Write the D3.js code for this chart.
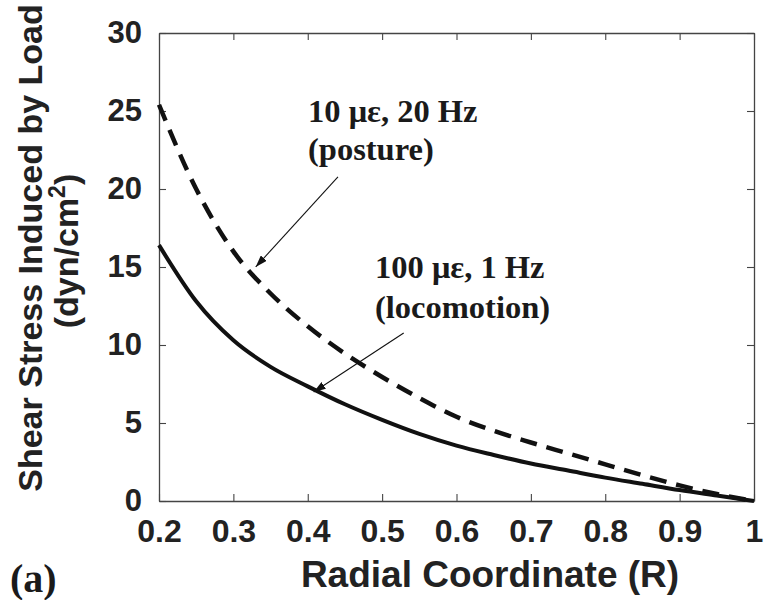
<!DOCTYPE html>
<html>
<head>
<meta charset="utf-8">
<script src="https://cdn.jsdelivr.net/npm/d3@7/dist/d3.min.js"></script>
<style>
  body { margin: 0; background: #fff; }
</style>
</head>
<body>
<div id="chart"></div>
<script>
// data
var radius = [0.2, 0.25, 0.3, 0.35, 0.4, 0.45, 0.5, 0.55, 0.6, 0.65, 0.7, 0.75, 0.8, 0.85, 0.9, 0.95, 1.0];
var locomotion = [16.4, 12.8, 10.3, 8.6, 7.35, 6.2, 5.2, 4.3, 3.55, 2.95, 2.4, 1.95, 1.5, 1.1, 0.7, 0.35, 0];
var posture = [25.4, 20.0, 16.0, 13.3, 11.2, 9.45, 7.95, 6.6, 5.4, 4.5, 3.75, 3.05, 2.35, 1.65, 1.0, 0.45, 0];
var xTicks = [0.2, 0.3, 0.4, 0.5, 0.6, 0.7, 0.8, 0.9, 1];
var yTicks = [0, 5, 10, 15, 20, 25, 30];

// svg size
var width = 767, height = 600;
var margin = { top: 33, left: 159, right: 13, bottom: 99 };
var plotW = width - margin.left - margin.right;
var plotH = height - margin.top - margin.bottom;

var svg = d3.select("#chart").append("svg")
  .attr("width", width)
  .attr("height", height);

var x = d3.scaleLinear().domain([0.2, 1]).range([margin.left, margin.left + plotW]);
var y = d3.scaleLinear().domain([0, 30]).range([margin.top + plotH, margin.top]);

var sans = "'Liberation Sans', Arial, sans-serif";
var serif = "'Liberation Serif', 'Times New Roman', serif";

// arrow head
svg.append("defs").append("marker")
  .attr("id", "head")
  .attr("viewBox", "0 0 12 8")
  .attr("refX", 12).attr("refY", 4)
  .attr("markerWidth", 12).attr("markerHeight", 8)
  .attr("markerUnits", "userSpaceOnUse")
  .attr("orient", "auto")
  .append("path").attr("d", "M0,0L12,4L0,8Z").attr("fill", "#111");

// axes, ticks pointing inward on all four sides
function styleAxis(size) {
  return function(g) {
    g.select(".domain").attr("stroke", "#444").attr("stroke-width", 1.3);
    g.selectAll(".tick line").attr("stroke", "#444").attr("stroke-width", 1.1);
    g.selectAll("text").attr("font-family", sans).attr("font-weight", "bold")
      .attr("font-size", size).attr("fill", "#222");
  };
}

svg.append("g")
  .attr("transform", "translate(0," + (margin.top + plotH) + ")")
  .call(d3.axisBottom(x).tickValues(xTicks).tickSizeInner(-7).tickSizeOuter(0).tickPadding(18)
    .tickFormat(function(d){ return d === 1 ? "1" : d3.format(".1f")(d); }))
  .call(styleAxis(32));

svg.append("g")
  .attr("transform", "translate(0," + margin.top + ")")
  .call(d3.axisTop(x).tickValues(xTicks).tickSizeInner(-7).tickSizeOuter(0).tickFormat(""))
  .call(styleAxis(32));

svg.append("g")
  .attr("transform", "translate(" + margin.left + ",0)")
  .call(d3.axisLeft(y).tickValues(yTicks).tickSizeInner(-7).tickSizeOuter(0).tickPadding(17))
  .call(styleAxis(31));

svg.append("g")
  .attr("transform", "translate(" + (margin.left + plotW) + ",0)")
  .call(d3.axisRight(y).tickValues(yTicks).tickSizeInner(-7).tickSizeOuter(0).tickFormat(""))
  .call(styleAxis(31));

// curves
var line = d3.line()
  .x(function(d, i){ return x(radius[i]); })
  .y(function(d){ return y(d); })
  .curve(d3.curveMonotoneX);

svg.append("path")
  .datum(posture)
  .attr("d", line)
  .attr("fill", "none")
  .attr("stroke", "#111")
  .attr("stroke-width", 4.5)
  .attr("stroke-dasharray", "17,10");

svg.append("path")
  .datum(locomotion)
  .attr("d", line)
  .attr("fill", "none")
  .attr("stroke", "#111")
  .attr("stroke-width", 4);

// annotations
svg.append("line")
  .attr("x1", x(0.4406)).attr("y1", y(20.77))
  .attr("x2", x(0.330)).attr("y2", y(15.0))
  .attr("stroke", "#111").attr("stroke-width", 1.1)
  .attr("marker-end", "url(#head)");

svg.append("line")
  .attr("x1", x(0.529)).attr("y1", y(10.77))
  .attr("x2", x(0.408)).attr("y2", y(6.99))
  .attr("stroke", "#111").attr("stroke-width", 1.1)
  .attr("marker-end", "url(#head)");

function note(tx, ty, str) {
  svg.append("text")
    .attr("x", tx).attr("y", ty)
    .attr("font-family", serif).attr("font-weight", "bold")
    .attr("font-size", 32.5).attr("fill", "#1a1a1a")
    .text(str);
}
note(308, 122, "10 \u03bc\u03b5, 20 Hz");
note(308, 160, "(posture)");
note(375, 278, "100 \u03bc\u03b5, 1 Hz");
note(375, 318, "(locomotion)");

// axis titles
svg.append("text")
  .attr("x", 490).attr("y", 587)
  .attr("text-anchor", "middle")
  .attr("font-family", sans).attr("font-weight", "bold")
  .attr("font-size", 37).attr("fill", "#222")
  .text("Radial Coordinate (R)");

svg.append("text")
  .attr("transform", "translate(42,248) rotate(-90)")
  .attr("text-anchor", "middle")
  .attr("font-family", sans).attr("font-weight", "bold")
  .attr("font-size", 34).attr("fill", "#222")
  .text("Shear Stress Induced by Load");

var unit = svg.append("text")
  .attr("transform", "translate(78,251) rotate(-90)")
  .attr("text-anchor", "middle")
  .attr("font-family", sans).attr("font-weight", "bold")
  .attr("font-size", 34).attr("fill", "#222");
unit.append("tspan").text("(dyn/cm");
unit.append("tspan").attr("font-size", 23).attr("dy", -13).text("2");
unit.append("tspan").attr("dy", 13).text(")");

svg.append("text")
  .attr("x", 10).attr("y", 592)
  .attr("font-family", serif).attr("font-weight", "bold")
  .attr("font-size", 40).attr("fill", "#1a1a1a")
  .text("(a)");
</script>
</body>
</html>
